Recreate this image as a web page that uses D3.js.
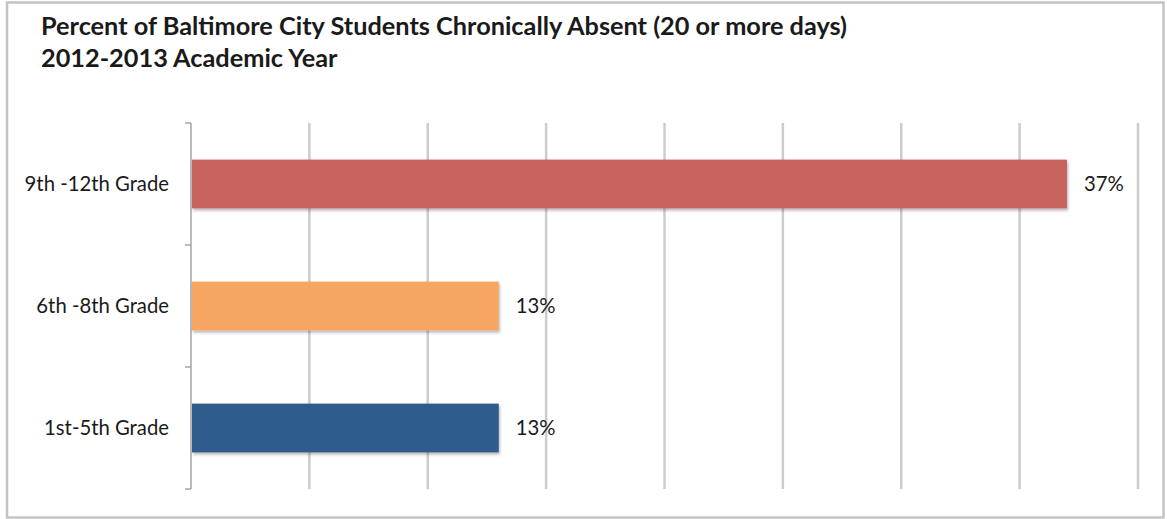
<!DOCTYPE html>
<html>
<head>
<meta charset="utf-8">
<script src="https://cdn.jsdelivr.net/npm/d3@7"></script>
<style>
  html, body { margin: 0; padding: 0; background: #fff; }
  svg { display: block; }
  text { font-family: Lato, "Noto Sans", sans-serif; fill: #1a1a1a; }
</style>
</head>
<body>
<svg id="chart" width="1167" height="519"></svg>
<script>
// Chronic absence by grade band, Baltimore City, 2012-2013
const titleLines = [
  "Percent of Baltimore City Students Chronically Absent (20 or more days)",
  "2012-2013 Academic Year"
];
const categories = ["9th -12th Grade", "6th -8th Grade", "1st-5th Grade"];
const values = [37, 13, 13];
const barColors = ["#c8645f", "#f6a662", "#2e5d8c"];
const gridTicks = [0, 5, 10, 15, 20, 25, 30, 35, 40];

const svg = d3.select("#chart");
const W = 1167, H = 519;

// outer frame
svg.append("rect")
  .attr("x", 7).attr("y", 2.5)
  .attr("width", W - 10.5).attr("height", H - 4)
  .attr("fill", "#fff")
  .attr("stroke", "#c4c4c4").attr("stroke-width", 2.5);

// soft drop shadow for bars
const defs = svg.append("defs");
const f = defs.append("filter").attr("id", "shadow")
  .attr("x", "-5%").attr("y", "-20%").attr("width", "110%").attr("height", "150%");
f.append("feDropShadow")
  .attr("dx", 1).attr("dy", 2).attr("stdDeviation", 1.5)
  .attr("flood-color", "#000").attr("flood-opacity", 0.3);

// title
svg.append("g").selectAll("text")
  .data(titleLines)
  .join("text")
  .attr("x", 41)
  .attr("y", (d, i) => 35 + i * 31.5)
  .attr("font-size", 25.3)
  .attr("font-weight", "bold")
  .text(d => d);

const plot = { left: 191, right: 1138, top: 123, bottom: 489 };

const x = d3.scaleLinear().domain([0, 40]).range([plot.left, plot.right]);
const y = d3.scaleBand().domain(categories)
  .range([plot.top, plot.bottom])
  .paddingInner(0.6).paddingOuter(0.3);

// vertical gridlines
svg.append("g").selectAll("line")
  .data(gridTicks.filter(t => t > 0))
  .join("line")
  .attr("x1", d => x(d)).attr("x2", d => x(d))
  .attr("y1", plot.top).attr("y2", plot.bottom)
  .attr("stroke", "#cccccc").attr("stroke-width", 2.5);

// category axis line with ticks between bands
const axisG = svg.append("g");
axisG.append("line")
  .attr("x1", plot.left).attr("x2", plot.left)
  .attr("y1", plot.top).attr("y2", plot.bottom)
  .attr("stroke", "#a6a6a6").attr("stroke-width", 1.5);
axisG.selectAll("line.tick")
  .data(d3.range(categories.length + 1).map(i => plot.top + i * y.step()))
  .join("line").attr("class", "tick")
  .attr("x1", plot.left - 6).attr("x2", plot.left)
  .attr("y1", d => d).attr("y2", d => d)
  .attr("stroke", "#a6a6a6").attr("stroke-width", 1.5);

// category labels
svg.append("g").selectAll("text")
  .data(categories)
  .join("text")
  .attr("x", 169)
  .attr("y", d => y(d) + y.bandwidth() / 2)
  .attr("dy", "0.35em")
  .attr("text-anchor", "end")
  .attr("font-size", 20.3)
  .text(d => d);

// bars
svg.append("g").selectAll("rect")
  .data(categories)
  .join("rect")
  .attr("x", x(0) + 1)
  .attr("y", d => y(d))
  .attr("width", (d, i) => x(values[i]) - x(0) - 1)
  .attr("height", y.bandwidth())
  .attr("fill", (d, i) => barColors[i])
  .attr("filter", "url(#shadow)");

// value labels
svg.append("g").selectAll("text")
  .data(categories)
  .join("text")
  .attr("x", (d, i) => x(values[i]) + 17)
  .attr("y", d => y(d) + y.bandwidth() / 2)
  .attr("dy", "0.35em")
  .attr("font-size", 20.3)
  .text((d, i) => values[i] + "%");
</script>
</body>
</html>
